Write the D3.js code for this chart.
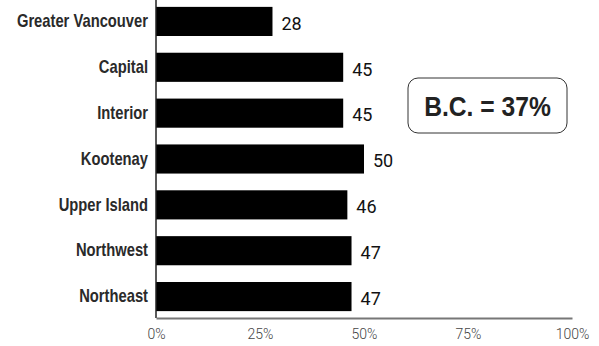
<!DOCTYPE html>
<html>
<head>
<meta charset="utf-8">
<script src="https://cdn.jsdelivr.net/npm/d3@7"></script>
<style>
  body { margin: 0; background: #fff; }
</style>
</head>
<body>
<svg id="drawing_region"></svg>
<script>
const regions = ['Greater Vancouver', 'Capital', 'Interior', 'Kootenay', 'Upper Island', 'Northwest', 'Northeast'];
const values = [28, 45, 45, 50, 46, 47, 47];
const ticks = [0, 25, 50, 75, 100];
const summary = 'B.C. = 37%';

const width = 599, height = 346;
const margin = {left: 156, right: 27, top: 0, bottom: 28};
// no narrow font installed, so squeeze bold text horizontally
const narrow = 0.82;

const svg = d3.select('#drawing_region')
    .attr('width', width)
    .attr('height', height);

const xscale = d3.scaleLinear()
    .domain([0, 100])
    .range([margin.left, width - margin.right]);

const yscale = d3.scaleBand()
    .domain(regions)
    .range([margin.top, height - margin.bottom])
    .paddingInner(0.365)
    .paddingOuter(0.15);

// bars
svg.append('g').selectAll('rect')
    .data(values)
    .join('rect')
    .attr('x', xscale(0))
    .attr('y', (d, i) => yscale(regions[i]))
    .attr('width', d => xscale(d) - xscale(0))
    .attr('height', yscale.bandwidth())
    .attr('fill', '#000');

// value labels
svg.append('g').selectAll('text')
    .data(values)
    .join('text')
    .attr('x', d => xscale(d) + 9)
    .attr('y', (d, i) => yscale(regions[i]) + yscale.bandwidth() / 2)
    .attr('dy', '0.46em')
    .attr('font-family', 'Roboto, sans-serif')
    .attr('font-weight', 400)
    .attr('font-size', 18)
    .attr('fill', '#111')
    .text(d => d);

// y axis
const yaxis = d3.axisLeft(yscale).tickSize(0).tickPadding(0);
const yg = svg.append('g')
    .attr('transform', `translate(${xscale(0)},0)`)
    .call(yaxis);
yg.select('.domain').remove();
yg.selectAll('text')
    .attr('x', 0)
    .attr('transform', `translate(-8,0) scale(${narrow},1)`)
    .attr('font-family', '"Liberation Sans", sans-serif')
    .attr('font-weight', 'bold')
    .attr('font-size', 18)
    .attr('fill', '#2a2a2a');
svg.append('line')
    .attr('x1', xscale(0)).attr('x2', xscale(0))
    .attr('y1', 0).attr('y2', height - margin.bottom)
    .attr('stroke', '#222')
    .attr('stroke-width', 1.5);

// x axis
const xaxis = d3.axisBottom(xscale)
    .tickValues(ticks)
    .tickFormat(d => d + '%')
    .tickSize(0)
    .tickPadding(11);
const xg = svg.append('g')
    .attr('transform', `translate(0,${height - margin.bottom})`)
    .call(xaxis);
xg.select('.domain')
    .attr('stroke', '#777')
    .attr('stroke-width', 2);
xg.selectAll('text')
    .attr('font-family', 'Roboto, sans-serif')
    .attr('font-weight', 300)
    .attr('font-size', 14)
    .attr('fill', '#444');

// summary box
const box = svg.append('g').attr('transform', 'translate(408,78)');
box.append('rect')
    .attr('width', 159)
    .attr('height', 55)
    .attr('rx', 10)
    .attr('fill', '#fff')
    .attr('stroke', '#333')
    .attr('stroke-width', 1);
box.append('text')
    .attr('transform', 'translate(79.5,27.5) scale(0.88,1)')
    .attr('dy', '0.36em')
    .attr('text-anchor', 'middle')
    .attr('font-family', '"Liberation Sans", sans-serif')
    .attr('font-weight', 'bold')
    .attr('font-size', 28)
    .attr('fill', '#222')
    .text(summary);
</script>
</body>
</html>
